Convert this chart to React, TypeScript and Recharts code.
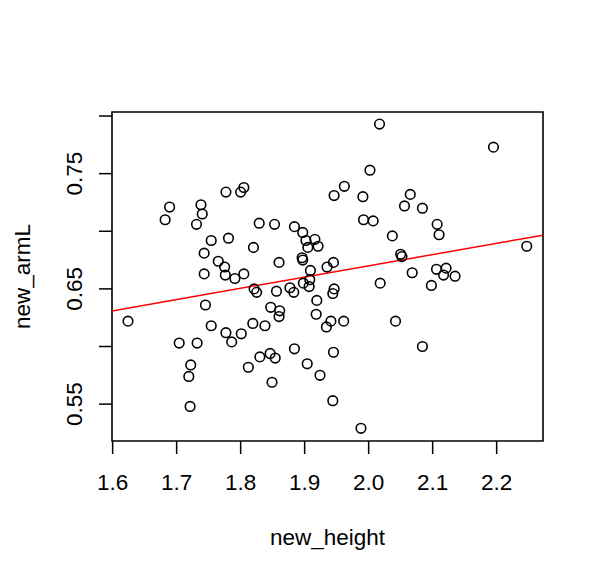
import React from "react";
import {
  ScatterChart,
  Scatter,
  XAxis,
  YAxis,
  ReferenceArea,
  ReferenceLine,
  Label,
} from "recharts";

const newHeight = [
  1.805, 1.8, 1.777, 1.689, 1.682, 1.738, 1.74, 1.731, 1.829, 1.754,
  1.781, 1.82, 1.743, 1.765, 1.775, 1.743, 1.776, 1.791, 1.805, 1.821,
  1.825, 1.745, 1.624, 1.754, 1.777, 1.801, 1.819, 1.786, 1.704, 1.732,
  1.83, 1.812, 1.722, 1.719, 1.721, 2.017, 2.002, 1.962, 1.946, 1.991,
  2.065, 2.056, 1.992, 2.007, 1.853, 1.884, 1.897, 1.902, 1.916, 1.905,
  1.921, 2.037, 1.86, 1.896, 1.897, 1.945, 1.935, 1.909, 2.05, 2.052,
  1.898, 2.018, 1.856, 1.877, 1.883, 1.908, 1.907, 1.946, 1.944, 1.919,
  1.847, 1.861, 1.86, 1.918, 1.941, 1.934, 1.961, 2.042, 1.838, 1.884,
  1.945, 1.846, 1.854, 1.904, 1.924, 1.849, 1.944, 1.988, 2.195, 2.084,
  2.107, 2.11, 2.247, 2.068, 2.106, 2.121, 2.117, 2.135, 2.098, 2.084,
];

const newArmL = [
  0.738, 0.734, 0.734, 0.721, 0.71, 0.723, 0.715, 0.706, 0.707, 0.692,
  0.694, 0.686, 0.681, 0.674, 0.669, 0.663, 0.662, 0.659, 0.663, 0.65,
  0.647, 0.636, 0.622, 0.618, 0.612, 0.611, 0.62, 0.604, 0.603, 0.603,
  0.591, 0.582, 0.584, 0.574, 0.548, 0.793, 0.753, 0.739, 0.731, 0.73,
  0.732, 0.722, 0.71, 0.709, 0.706, 0.704, 0.699, 0.692, 0.693, 0.686,
  0.687, 0.696, 0.673, 0.677, 0.675, 0.673, 0.669, 0.666, 0.68, 0.678,
  0.655, 0.655, 0.648, 0.651, 0.647, 0.658, 0.652, 0.65, 0.646, 0.64,
  0.634, 0.631, 0.626, 0.628, 0.622, 0.617, 0.622, 0.622, 0.618, 0.598,
  0.595, 0.594, 0.59, 0.585, 0.575, 0.569, 0.553, 0.529, 0.773, 0.72,
  0.706, 0.697, 0.687, 0.664, 0.667, 0.668, 0.662, 0.661, 0.653, 0.6,
];

const xTicks = [1.6, 1.7, 1.8, 1.9, 2.0, 2.1, 2.2];
const yTicks = [0.55, 0.6, 0.65, 0.7, 0.75, 0.8];
const yTickLabels = [0.55, 0.65, 0.75];

const xDomain = [1.599, 2.2724];
const yDomain = [0.518, 0.8035];

// fitted regression line endpoints (at the plot edges)
const fitX = [1.599, 2.2724];
const fitY = [0.6309, 0.6966];

const points = newHeight.map((h, i) => ({ x: h, y: newArmL[i] }));

const FONT = "'Liberation Sans', Arial, Helvetica, sans-serif";
const FS = 22.5;

const YTick = (props: any) => {
  const { x, y, payload } = props;
  const v = payload.value;
  const show = yTickLabels.some((t) => Math.abs(t - v) < 1e-9);
  if (!show) return <g />;
  return (
    <text
      x={x}
      y={y}
      textAnchor="middle"
      fontSize={FS}
      fontFamily={FONT}
      fill="#000"
      transform={`rotate(-90, ${x}, ${y})`}
    >
      {v.toFixed(2)}
    </text>
  );
};

const XTick = (props: any) => {
  const { x, y, payload } = props;
  return (
    <text
      x={x}
      y={y}
      textAnchor="middle"
      fontSize={FS}
      fontFamily={FONT}
      fill="#000"
    >
      {payload.value.toFixed(1)}
    </text>
  );
};

const Dot = (p: any) => (
  <circle cx={p.cx} cy={p.cy} r={4.8} fill="none" stroke="#000" strokeWidth={1.6} />
);

export default function App() {
  return (
    <div style={{ position: "absolute", left: 0, top: 0, background: "#fff" }}>
      <ScatterChart
        width={600}
        height={581}
        margin={{ top: 112, right: 57, bottom: 0, left: 0 }}
      >
        <XAxis
          type="number"
          dataKey="x"
          domain={xDomain}
          allowDataOverflow
          ticks={xTicks}
          interval={0}
          axisLine={false}
          tickLine={{ stroke: "#000", strokeWidth: 1.5 }}
          tickSize={13}
          tickMargin={36}
          height={140}
          tick={<XTick />}
        >
          <Label
            content={(p: any) => {
              const vb = p.viewBox;
              return (
                <text
                  x={vb.x + vb.width / 2}
                  y={vb.y + 104}
                  textAnchor="middle"
                  fontSize={FS}
                  fontFamily={FONT}
                  fill="#000"
                >
                  new_height
                </text>
              );
            }}
          />
        </XAxis>
        <YAxis
          type="number"
          dataKey="y"
          domain={yDomain}
          allowDataOverflow
          ticks={yTicks}
          interval={0}
          axisLine={false}
          tickLine={{ stroke: "#000", strokeWidth: 1.5 }}
          tickSize={13}
          tickMargin={17}
          width={112}
          tick={<YTick />}
        >
          <Label
            content={(p: any) => {
              const vb = p.viewBox;
              const cx = vb.x + 30;
              const cy = vb.y + vb.height / 2;
              return (
                <text
                  x={cx}
                  y={cy}
                  textAnchor="middle"
                  fontSize={FS}
                  fontFamily={FONT}
                  fill="#000"
                  transform={`rotate(-90, ${cx}, ${cy})`}
                >
                  new_armL
                </text>
              );
            }}
          />
        </YAxis>
        <ReferenceArea
          x1={xDomain[0]}
          x2={xDomain[1]}
          y1={yDomain[0]}
          y2={yDomain[1]}
          fill="none"
          stroke="#000"
          strokeWidth={1.6}
          ifOverflow="visible"
        />
        <Scatter
          data={points}
          isAnimationActive={false}
          shape={<Dot />}
        />
        <ReferenceLine
          segment={[
            { x: fitX[0], y: fitY[0] },
            { x: fitX[1], y: fitY[1] },
          ]}
          stroke="#ff0000"
          strokeWidth={1.5}
          ifOverflow="visible"
        />
      </ScatterChart>
    </div>
  );
}
